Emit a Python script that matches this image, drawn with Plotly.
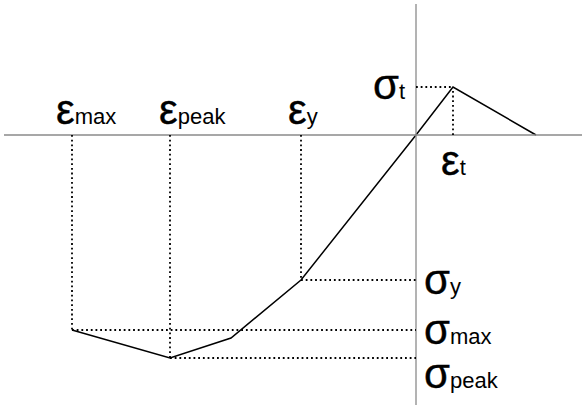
import plotly.graph_objects as go

# Stress-strain law (strain and stress in plot units, origin at the axes crossing)
eps_max, eps_peak, eps_mid, eps_y, eps_t, eps_u = -3.44, -2.46, -1.85, -1.15, 0.37, 1.20
sig_max, sig_peak, sig_mid, sig_y, sig_t = -1.95, -2.23, -2.03, -1.45, 0.48

curve_strain = [eps_max, eps_peak, eps_mid, eps_y, 0.0, eps_t, eps_u]
curve_stress = [sig_max, sig_peak, sig_mid, sig_y, 0.0, sig_t, 0.0]

X_RANGE = [-4.16, 1.66]
Y_RANGE = [-2.70, 1.35]

BIG = 42
SMALL = 22
FONT = "Liberation Sans, Arial, sans-serif"


def lab(sym, sub):
    return (f"<span style='stroke:black;stroke-width:0.4px'>{sym}</span>"
            f"<span style='font-size:{SMALL}px'>{sub}</span>")


fig = go.Figure()

# axes through the origin
axis_style = dict(color="#8a8a8a", width=1.3)
fig.add_shape(type="line", x0=-4.12, x1=X_RANGE[1], y0=0, y1=0, line=axis_style)
fig.add_shape(type="line", x0=0, x1=0, y0=1.31, y1=Y_RANGE[0], line=axis_style)

# dotted guides
dot = dict(color="black", width=1.8, dash="1.8px,2.9px")
guides = [
    (eps_max, eps_max, 0, sig_max),
    (eps_peak, eps_peak, 0, sig_peak),
    (eps_y, eps_y, 0, sig_y),
    (eps_t, eps_t, 0, sig_t),
    (eps_max, 0, sig_max, sig_max),
    (eps_peak, 0, sig_peak, sig_peak),
    (eps_y, 0, sig_y, sig_y),
    (0, eps_t, sig_t, sig_t),
]
for xa, xb, ya, yb in guides:
    fig.add_shape(type="line", x0=xa, x1=xb, y0=ya, y1=yb, line=dot)

# constitutive curve
fig.add_trace(go.Scatter(
    x=curve_strain, y=curve_stress, mode="lines",
    line=dict(color="black", width=1.5), hoverinfo="skip", showlegend=False,
))

labels = [
    (lab("ε", "max"), eps_max - 0.18, 0.26),
    (lab("ε", "peak"), eps_peak - 0.13, 0.26),
    (lab("ε", "y"), eps_y - 0.15, 0.26),
    (lab("ε", "t"), eps_t - 0.14, -0.25),
    (lab("σ", "t"), -0.45, sig_t + 0.03),
    (lab("σ", "y"), 0.06, sig_y + 0.01),
    (lab("σ", "max"), 0.06, sig_max + 0.01),
    (lab("σ", "peak"), 0.06, sig_peak - 0.15),
]
for text, x, y in labels:
    fig.add_annotation(
        x=x, y=y, text=text, showarrow=False, xanchor="left", yanchor="middle",
        font=dict(size=BIG, color="black", family=FONT),
    )

fig.update_layout(
    width=582, height=405, margin=dict(l=0, r=0, t=0, b=0),
    paper_bgcolor="white", plot_bgcolor="white",
    xaxis=dict(range=X_RANGE, visible=False, fixedrange=True),
    yaxis=dict(range=Y_RANGE, visible=False, fixedrange=True),
)

fig.write_html("out.html")
